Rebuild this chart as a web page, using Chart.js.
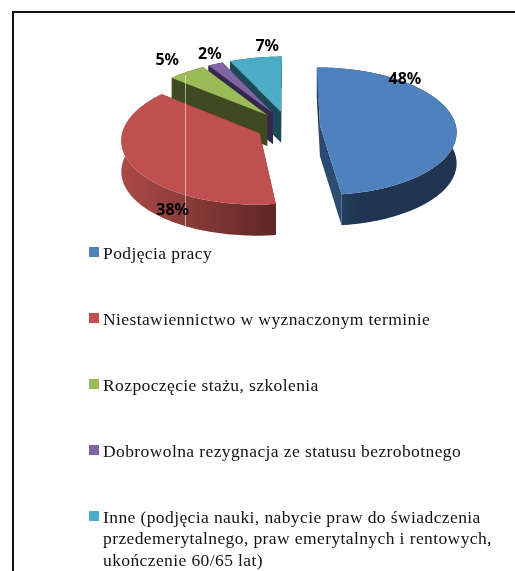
<!DOCTYPE html>
<html lang="pl">
<head>
<meta charset="utf-8">
<script src="https://cdn.jsdelivr.net/npm/chart.js@4"></script>
<style>
html,body{margin:0;padding:0;background:#fff;width:515px;height:571px;overflow:hidden}
#wrap{position:relative;width:515px;height:571px}
canvas{position:absolute;left:0;top:0}
.fT{position:absolute;left:12px;top:11px;right:0;height:2px;background:#111}
.fL{position:absolute;left:12px;top:11px;bottom:0;width:2px;background:#111}
#legend{position:absolute;left:89px;top:243px;width:420px;font:17.5px/21.4px "Liberation Serif",serif;letter-spacing:.4px;color:#111}
.li{position:relative;padding-left:14px;margin-bottom:44.6px;width:395px}
.li i{position:absolute;left:0;top:4px;width:10px;height:10px}
</style>
</head>
<body>
<div id="wrap">
<canvas id="c" width="515" height="571"></canvas>
<div class="fT"></div><div class="fL"></div>
<div id="legend"></div>
</div>
<script>
const categories = [
  "Podjęcia pracy",
  "Niestawiennictwo w wyznaczonym terminie",
  "Rozpoczęcie stażu, szkolenia",
  "Dobrowolna rezygnacja ze statusu bezrobotnego",
  "Inne (podjęcia nauki, nabycie praw do świadczenia przedemerytalnego, praw emerytalnych i rentowych, ukończenie 60/65 lat)"
];
const values = [48, 38, 5, 2, 7];
const topColors = ["#4f81bd", "#c0504d", "#9bbb59", "#8064a2", "#4bacc6"];
const wallColors = ["#1f3552", "#5e2725", "#3f4a22", "#34294a", "#1c4a58"];
const wallLight = ["#2c4b72", "#aa4a47", "#3f4a22", "#34294a", "#1c4a58"];
const paintOrder = [4, 3, 2, 1, 0];
const labelShift = [[85, -46], [-87, 77], [-100, -54], [-63, -59], [-14, -65]];

const SQUASH = 0.47, PERSP = 0.095, DEPTH = 31;

const pie3d = {
  id: "pie3d",
  beforeDatasetDraw(chart, args) {
    const ctx = chart.ctx, arcs = args.meta.data;
    const geo = arcs.map(a => {
      const p = a.getProps(["x", "y", "startAngle", "endAngle", "outerRadius"], true);
      const mid = (p.startAngle + p.endAngle) / 2, off = a.options.offset;
      const ox = Math.cos(mid) * off, oy = Math.sin(mid) * off, R = p.outerRadius;
      const proj = (u, v) => {
        const f = 1 + PERSP * v / R;
        return [p.x + u * f, p.y + v * SQUASH * f];
      };
      const pts = [];
      const n = Math.max(6, Math.ceil((p.endAngle - p.startAngle) * 40));
      for (let k = 0; k <= n; k++) {
        const t = p.startAngle + (p.endAngle - p.startAngle) * k / n;
        pts.push(proj(ox + Math.cos(t) * R, oy + Math.sin(t) * R));
      }
      return { apex: proj(ox, oy), pts };
    });
    const poly = (list, fill) => {
      ctx.beginPath();
      list.forEach((q, i) => i ? ctx.lineTo(q[0], q[1]) : ctx.moveTo(q[0], q[1]));
      ctx.closePath();
      ctx.fillStyle = fill;
      ctx.fill();
    };
    const down = q => [q[0], q[1] + DEPTH];
    ctx.save();
    paintOrder.forEach(i => {
      const g = geo[i], first = g.pts[0], last = g.pts[g.pts.length - 1];
      const xs = g.pts.map(q => q[0]);
      const minX = Math.min(...xs), maxX = Math.max(...xs);
      const grad = ctx.createLinearGradient(minX, 0, maxX, 0);
      if (i === 0) {
        grad.addColorStop(0, wallLight[i]);
        grad.addColorStop(0.3, wallColors[i]);
        grad.addColorStop(1, wallColors[i]);
      } else {
        grad.addColorStop(0, wallLight[i]);
        grad.addColorStop(1, wallColors[i]);
      }
      poly([g.apex, first, down(first), down(g.apex)], wallColors[i]);
      poly([g.apex, last, down(last), down(g.apex)], i === 0 ? wallLight[i] : wallColors[i]);
      poly(g.pts.concat(g.pts.slice().reverse().map(down)), grad);
      poly([g.apex].concat(g.pts), arcs[i].options.backgroundColor);
    });
    // thin light scan line crossing the picture
    ctx.fillStyle = "rgba(255,255,255,0.55)";
    ctx.fillRect(185, 75, 1, 154);
    // value labels
    ctx.font = 'bold 16px "Noto Sans", sans-serif';
    ctx.fillStyle = "#000";
    ctx.textAlign = "center";
    ctx.textBaseline = "middle";
    values.forEach((v, i) => {
      const g = geo[i];
      ctx.fillText(v + "%", g.apex[0] + labelShift[i][0], g.apex[1] + labelShift[i][1]);
    });
    ctx.restore();
    return false;
  }
};

const chart = new Chart(document.getElementById("c"), {
  type: "pie",
  data: {
    labels: categories,
    datasets: [{ data: values, backgroundColor: topColors, borderWidth: 0, offset: 32, radius: 136 }]
  },
  options: {
    responsive: false,
    animation: false,
    events: [],
    layout: { padding: { left: 61, right: 0, top: 0, bottom: 319 } },
    plugins: { legend: { display: false }, tooltip: { enabled: false } }
  },
  plugins: [pie3d]
});

const legendEl = document.getElementById("legend");
chart.data.labels.forEach((text, i) => {
  const row = document.createElement("div");
  row.className = "li";
  const box = document.createElement("i");
  box.style.background = topColors[i];
  row.appendChild(box);
  row.appendChild(document.createTextNode(text));
  legendEl.appendChild(row);
});
</script>
</body>
</html>
